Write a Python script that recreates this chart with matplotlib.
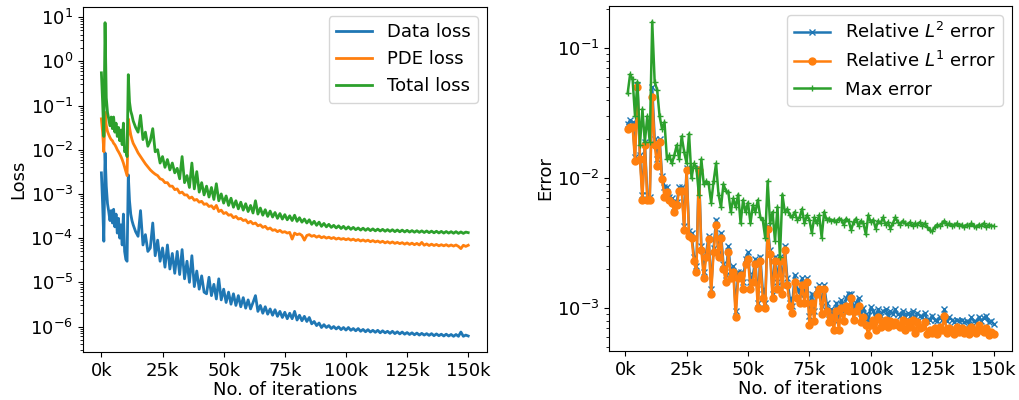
import matplotlib
matplotlib.use("Agg")
import matplotlib.pyplot as plt
from matplotlib.ticker import FuncFormatter

plt.rcParams['font.size'] = 13
plt.rcParams['lines.linewidth'] = 2.0

# loss history: 500-step samples up to 12.5k, then every 1k
loss_iters = list(range(0, 13000, 500)) + list(range(13000, 150001, 1000))

data_loss = [
    3.0e-3, 6e-4, 8.5e-5, 8.5e-3, 1.5e-3, 6e-4, 4e-4, 2.5e-4, 4.2e-4, 2.2e-4,
    4.5e-4, 1.8e-4, 3.5e-4, 1.3e-4, 2.8e-4, 1.0e-4, 2.0e-4, 7e-5, 3.5e-4, 5e-5,
    3.3e-5, 3.0e-5, 2.7e-3, 7e-4, 3.5e-4, 2.5e-4,
    2.0e-4, 1.4e-4, 1.1e-4, 4.2e-4, 7e-5, 1.2e-4, 5e-5, 6e-5, 2.2e-4, 4e-5,
    9e-5, 3e-5, 6e-5, 2.2e-5, 7e-5, 2.0e-5, 4.5e-5, 1.6e-5, 5e-5, 1.5e-5,
    5.5e-5, 1.2e-5, 3e-5, 1.0e-5, 4e-5, 8e-6, 1.8e-5, 7e-6, 1.4e-5, 6e-6,
    5.5e-6, 1.3e-5, 5e-6, 9e-6, 4.2e-6, 1.2e-5, 4e-6, 7e-6, 3.5e-6, 6e-6,
    3.2e-6, 5.5e-6, 3e-6, 5e-6, 2.8e-6, 4.5e-6, 2.6e-6, 4e-6, 2.5e-6, 3.5e-6,
    5e-6, 2.2e-6, 3e-6, 2.0e-6, 2.8e-6, 1.9e-6, 2.5e-6, 1.8e-6, 2.4e-6, 1.7e-6,
    2.2e-6, 1.6e-6, 2.1e-6, 1.5e-6, 2.0e-6, 1.5e-6, 2.2e-6, 1.4e-6, 1.8e-6, 1.35e-6,
    1.7e-6, 1.3e-6, 1.6e-6, 1.15e-6, 1.3e-6, 1.05e-6, 1.2e-6, 9.5e-7, 1.1e-6, 9.5e-7,
    1.05e-6, 9e-7, 1.0e-6, 8.8e-7, 9.8e-7, 8.5e-7, 9.5e-7, 8.3e-7, 9.5e-7, 8.2e-7,
    9e-7, 8e-7, 9e-7, 7.8e-7, 8.6e-7, 7.6e-7, 8.5e-7, 7.5e-7, 8.2e-7, 7.4e-7,
    8.2e-7, 7.2e-7, 8e-7, 7.2e-7, 7.8e-7, 7e-7, 7.8e-7, 6.9e-7, 7.6e-7, 6.8e-7,
    7.5e-7, 6.7e-7, 7.3e-7, 6.6e-7, 7.2e-7, 6.5e-7, 7.1e-7, 6.4e-7, 7e-7, 6.4e-7,
    6.9e-7, 6.3e-7, 6.9e-7, 6.2e-7, 6.8e-7, 6.2e-7, 6.7e-7, 6.1e-7, 6.7e-7, 6.1e-7,
    6.6e-7, 6e-7, 6.6e-7, 6e-7, 7.5e-7, 6e-7, 6.4e-7, 6.1e-7,
]

pde_loss = [
    5e-2, 2.5e-2, 9e-3, 7e-2, 3.5e-2, 2.6e-2, 2.2e-2, 1.9e-2, 1.7e-2, 1.6e-2,
    1.4e-2, 1.3e-2, 1.15e-2, 1.0e-2, 9e-3, 8e-3, 7e-3, 6e-3, 5e-3, 4e-3,
    3.2e-3, 2.6e-3, 5e-2, 3.2e-2, 2.2e-2, 1.7e-2,
    1.4e-2, 1.1e-2, 8.5e-3, 7e-3, 5.8e-3, 4.8e-3, 4.1e-3, 3.5e-3, 3.1e-3, 2.8e-3,
    2.6e-3, 2.2e-3, 2.1e-3, 1.8e-3, 1.8e-3, 1.5e-3, 1.5e-3, 1.25e-3, 1.3e-3, 1.05e-3,
    1.1e-3, 9.5e-4, 9.5e-4, 8e-4, 8.5e-4, 7.2e-4, 7.5e-4, 6.5e-4, 6.8e-4, 5.8e-4,
    6e-4, 5.2e-4, 5.4e-4, 4.6e-4, 5.5e-4, 4.0e-4, 4.3e-4, 3.6e-4, 3.8e-4, 3.3e-4,
    3.4e-4, 2.9e-4, 3.1e-4, 2.7e-4, 2.8e-4, 2.5e-4, 2.6e-4, 2.2e-4, 2.4e-4, 2.1e-4,
    2.2e-4, 1.9e-4, 2.0e-4, 1.75e-4, 1.85e-4, 1.6e-4, 1.7e-4, 1.5e-4, 1.55e-4, 1.4e-4,
    1.5e-4, 1.35e-4, 1.4e-4, 1.3e-4, 1.35e-4, 9.5e-5, 1.3e-4, 1.2e-4, 1.25e-4, 1.15e-4,
    9e-5, 1.15e-4, 1.2e-4, 1.1e-4, 1.15e-4, 1.05e-4, 1.12e-4, 1.02e-4, 1.08e-4, 1.0e-4,
    1.05e-4, 9.8e-5, 1.03e-4, 9.5e-5, 1.0e-4, 9.4e-5, 9.8e-5, 9.2e-5, 9.7e-5, 9e-5,
    9.5e-5, 8.8e-5, 9.3e-5, 8.6e-5, 9.1e-5, 8.5e-5, 9e-5, 8.3e-5, 8.8e-5, 8.2e-5,
    8.6e-5, 8e-5, 8.5e-5, 7.8e-5, 8.3e-5, 7.7e-5, 8.2e-5, 7.6e-5, 8e-5, 7.5e-5,
    7.9e-5, 7.3e-5, 7.8e-5, 7.2e-5, 7.7e-5, 7.1e-5, 7.6e-5, 7e-5, 8.0e-5, 6.9e-5,
    7.4e-5, 6.8e-5, 7.3e-5, 6.8e-5, 7.2e-5, 6.7e-5, 7.1e-5, 6.7e-5, 7.1e-5, 6.6e-5,
    7.0e-5, 6.6e-5, 7.0e-5, 6.5e-5, 5.8e-5, 6.9e-5, 6.5e-5, 6.9e-5,
]

total_loss = [
    0.55, 0.12, 2.0e-2, 7.5, 0.15, 7e-2, 5e-2, 3.5e-2, 5.5e-2, 3e-2,
    5.5e-2, 2.5e-2, 4e-2, 2e-2, 3.2e-2, 1.6e-2, 2.8e-2, 1.3e-2, 4e-2, 9e-3,
    1.0e-2, 7e-3, 0.5, 0.12, 7.5e-2, 6e-2,
    4.5e-2, 3.2e-2, 2.5e-2, 6e-2, 1.7e-2, 2.5e-2, 1.2e-2, 1.6e-2, 3e-2, 9e-3,
    1.0e-2, 5e-3, 7e-3, 4e-3, 6e-3, 3.5e-3, 5e-3, 3e-3, 3.8e-3, 2.2e-3,
    7e-3, 1.8e-3, 2.6e-3, 1.4e-3, 5e-3, 1.3e-3, 3.2e-3, 1.1e-3, 1.8e-3, 9.5e-4,
    1.5e-3, 8.5e-4, 1.4e-3, 7.5e-4, 1.7e-3, 7e-4, 1.0e-3, 6.2e-4, 9e-4, 5.5e-4,
    8e-4, 5e-4, 7e-4, 4.6e-4, 6.5e-4, 4.3e-4, 6e-4, 4e-4, 5.5e-4, 3.7e-4,
    7e-4, 3.5e-4, 4.8e-4, 3.3e-4, 4.4e-4, 3.1e-4, 4.1e-4, 3e-4, 3.8e-4, 2.8e-4,
    3.6e-4, 2.7e-4, 3.4e-4, 2.6e-4, 3.2e-4, 2.5e-4, 3.3e-4, 2.4e-4, 2.9e-4, 2.3e-4,
    2.7e-4, 2.2e-4, 2.6e-4, 2.05e-4, 2.4e-4, 1.95e-4, 2.3e-4, 1.85e-4, 2.15e-4, 1.8e-4,
    2.05e-4, 1.75e-4, 1.95e-4, 1.7e-4, 1.9e-4, 1.65e-4, 1.85e-4, 1.6e-4, 1.8e-4, 1.58e-4,
    1.75e-4, 1.55e-4, 1.7e-4, 1.52e-4, 1.68e-4, 1.5e-4, 1.65e-4, 1.48e-4, 1.62e-4, 1.46e-4,
    1.6e-4, 1.45e-4, 1.58e-4, 1.43e-4, 1.56e-4, 1.42e-4, 1.55e-4, 1.4e-4, 1.53e-4, 1.39e-4,
    1.52e-4, 1.38e-4, 1.5e-4, 1.37e-4, 1.48e-4, 1.36e-4, 1.47e-4, 1.35e-4, 1.46e-4, 1.34e-4,
    1.45e-4, 1.33e-4, 1.44e-4, 1.32e-4, 1.43e-4, 1.31e-4, 1.42e-4, 1.3e-4, 1.41e-4, 1.3e-4,
    1.4e-4, 1.29e-4, 1.4e-4, 1.28e-4, 1.38e-4, 1.28e-4, 1.37e-4, 1.33e-4,
]

# error history, evaluated every 1k iterations
err_iters = list(range(1000, 150001, 1000))

rel_l2 = [
    0.026, 0.028, 0.027, 0.0145, 0.052, 0.015, 0.0075, 0.019, 0.0075, 0.0072,
    0.050, 0.020, 0.014, 0.020, 0.0105, 0.0085, 0.0085, 0.0072, 0.007, 0.006,
    0.0066, 0.0085, 0.0085, 0.0043, 0.012, 0.0039, 0.0038, 0.0025, 0.0021, 0.012,
    0.003, 0.0019, 0.0027, 0.0036, 0.0014, 0.0029, 0.0048, 0.0027, 0.0038, 0.0022,
    0.0018, 0.003, 0.0019, 0.0021, 0.00095, 0.0019, 0.0019, 0.0016, 0.0024, 0.0027,
    0.0016, 0.0018, 0.0024, 0.0011, 0.0025, 0.0014, 0.0011, 0.0043, 0.0028, 0.0013,
    0.0025, 0.0016, 0.0025, 0.0015, 0.003, 0.0017, 0.0012, 0.00105, 0.0018, 0.0014,
    0.0013, 0.0017, 0.0013, 0.0017, 0.00088, 0.0013, 0.00095, 0.0014, 0.0015, 0.00105,
    0.0015, 0.0011, 0.0009, 0.00098, 0.00082, 0.0011, 0.00085, 0.00115, 0.00095, 0.0012,
    0.0013, 0.0013, 0.00098, 0.0011, 0.0012, 0.00092, 0.001, 0.0009, 0.00078, 0.00102,
    0.00095, 0.00085, 0.00098, 0.00088, 0.00095, 0.00098, 0.00088, 0.00095, 0.0009, 0.00098,
    0.0009, 0.00088, 0.00095, 0.00085, 0.00092, 0.00088, 0.00095, 0.0008, 0.00092, 0.00088,
    0.00086, 0.00092, 0.0008, 0.00082, 0.00088, 0.00082, 0.0008, 0.00085, 0.00082, 0.00098,
    0.0008, 0.00085, 0.00082, 0.00078, 0.00082, 0.0008, 0.00082, 0.00078, 0.0008, 0.00076,
    0.00085, 0.0008, 0.00078, 0.00086, 0.0008, 0.00084, 0.00088, 0.00078, 0.0008, 0.00076,
]

rel_l1 = [
    0.024, 0.025, 0.025, 0.0135, 0.050, 0.014, 0.0068, 0.018, 0.0068, 0.0068,
    0.042, 0.018, 0.0125, 0.019, 0.0098, 0.0072, 0.0078, 0.0068, 0.0065, 0.0055,
    0.0062, 0.008, 0.008, 0.004, 0.0115, 0.0036, 0.0035, 0.0023, 0.0019, 0.0115,
    0.0028, 0.0017, 0.0025, 0.0034, 0.0013, 0.0027, 0.0044, 0.0025, 0.0035, 0.002,
    0.0016, 0.0027, 0.0017, 0.0019, 0.00085, 0.0017, 0.0018, 0.0014, 0.0022, 0.0024,
    0.0014, 0.0016, 0.0022, 0.001, 0.0023, 0.0012, 0.001, 0.0041, 0.0026, 0.0012,
    0.0023, 0.0014, 0.0023, 0.0013, 0.0028, 0.0015, 0.00105, 0.00092, 0.0016, 0.0012,
    0.0011, 0.0015, 0.0011, 0.0016, 0.00075, 0.0011, 0.0008, 0.0013, 0.0014, 0.0009,
    0.0014, 0.00095, 0.00078, 0.00085, 0.00068, 0.00095, 0.00068, 0.001, 0.0008, 0.00105,
    0.00095, 0.0012, 0.00082, 0.00095, 0.00105, 0.00078, 0.00085, 0.00075, 0.00062, 0.00075,
    0.00082, 0.00068, 0.00085, 0.00072, 0.00078, 0.00082, 0.00072, 0.0008, 0.00075, 0.00078,
    0.00075, 0.00072, 0.00082, 0.00068, 0.00078, 0.00072, 0.00082, 0.00065, 0.00078, 0.0007,
    0.00072, 0.00078, 0.00064, 0.00068, 0.00065, 0.0007, 0.00064, 0.00072, 0.00068, 0.00088,
    0.00065, 0.0007, 0.00068, 0.00064, 0.00072, 0.00066, 0.0007, 0.00065, 0.00068, 0.00064,
    0.00072, 0.00068, 0.00065, 0.00075, 0.00068, 0.00066, 0.0007, 0.00062, 0.00066, 0.00063,
]

max_err = [
    0.045, 0.063, 0.058, 0.030, 0.055, 0.018, 0.034, 0.019, 0.030, 0.019,
    0.16, 0.055, 0.048, 0.030, 0.024, 0.027, 0.014, 0.015, 0.013, 0.015,
    0.018, 0.014, 0.021, 0.016, 0.013, 0.022, 0.010, 0.013, 0.012, 0.0075,
    0.014, 0.009, 0.0095, 0.009, 0.0065, 0.0095, 0.013, 0.0075, 0.006, 0.009,
    0.008, 0.0078, 0.0055, 0.007, 0.006, 0.0075, 0.0045, 0.0068, 0.0055, 0.0065,
    0.0045, 0.0062, 0.0055, 0.0068, 0.005, 0.0048, 0.0035, 0.0095, 0.0045, 0.0055,
    0.0033, 0.006, 0.0025, 0.0075, 0.0055, 0.0058, 0.0052, 0.005, 0.0055, 0.0048,
    0.005, 0.0058, 0.0045, 0.0052, 0.0048, 0.0038, 0.005, 0.0045, 0.0052, 0.0035,
    0.0055, 0.0048, 0.0049, 0.0047, 0.0048, 0.0046, 0.0049, 0.0048, 0.0044, 0.0049,
    0.0047, 0.004, 0.0046, 0.0049, 0.0043, 0.0047, 0.0045, 0.0037, 0.0052, 0.0046,
    0.0048, 0.0041, 0.0047, 0.0045, 0.005, 0.0044, 0.0046, 0.0041, 0.0045, 0.005,
    0.0046, 0.0044, 0.0047, 0.0045, 0.0044, 0.0046, 0.0043, 0.0045, 0.0044, 0.0046,
    0.0043, 0.0045, 0.0042, 0.004, 0.0039, 0.0042, 0.0044, 0.0043, 0.0045, 0.0047,
    0.0044, 0.0045, 0.0043, 0.0044, 0.0045, 0.0043, 0.0044, 0.0042, 0.0044, 0.0043,
    0.0045, 0.0043, 0.0042, 0.0044, 0.0043, 0.0045, 0.0042, 0.0044, 0.0043, 0.0043,
]

xticks = list(range(0, 150001, 25000))
kfmt = FuncFormatter(lambda v, pos: f"{int(v / 1000)}k")

fig = plt.figure(figsize=(10.19, 4.0), dpi=100)
ax1 = fig.add_axes([0.0815, 0.12, 0.396, 0.8625])
ax2 = fig.add_axes([0.598, 0.1225, 0.395, 0.8625])

# left: losses
ax1.plot(loss_iters, data_loss, label="Data loss")
ax1.plot(loss_iters, pde_loss, label="PDE loss")
ax1.plot(loss_iters, total_loss, label="Total loss")
ax1.set_yscale("log")
ax1.set_xticks(xticks)
ax1.xaxis.set_major_formatter(kfmt)
ax1.set_xlabel("No. of iterations", labelpad=1)
ax1.set_ylabel("Loss", labelpad=2)
ax1.legend(loc="upper right")

# right: errors
ax2.plot(err_iters, rel_l2, marker="x", markersize=5, lw=1.8, label=r"Relative $L^2$ error")
ax2.plot(err_iters, rel_l1, marker="o", markersize=5, lw=1.8, label=r"Relative $L^1$ error")
ax2.plot(err_iters, max_err, marker="+", markersize=5, lw=1.8, label="Max error")
ax2.set_yscale("log")
ax2.set_xticks(xticks)
ax2.xaxis.set_major_formatter(kfmt)
ax2.set_xlabel("No. of iterations", labelpad=1)
ax2.set_ylabel("Error", labelpad=2)
ax2.legend(loc="upper right")

fig.savefig("out.png", dpi=100)
